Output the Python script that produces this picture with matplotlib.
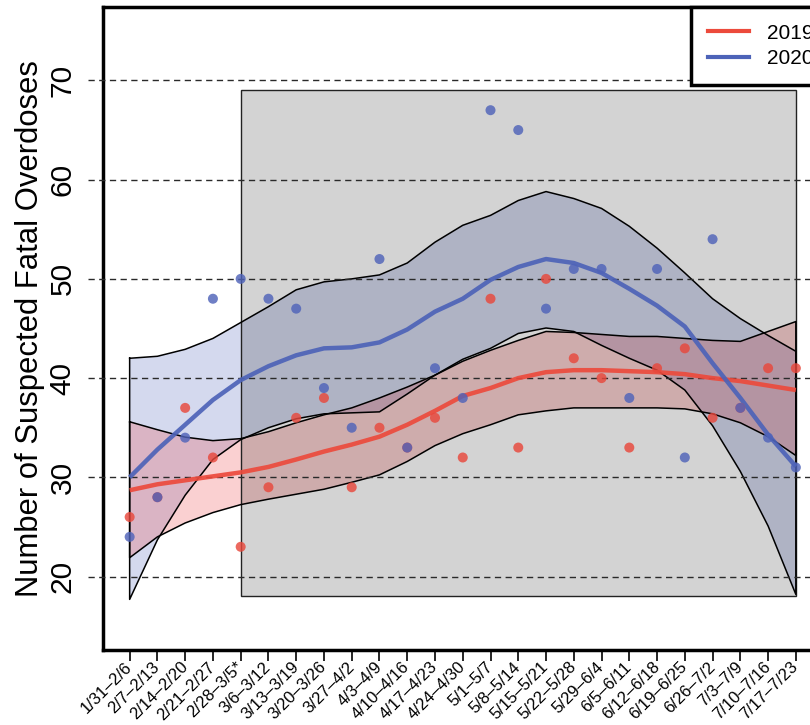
import matplotlib
matplotlib.use('Agg')
import matplotlib.pyplot as plt
from matplotlib.patches import Rectangle
from matplotlib.lines import Line2D
import matplotlib.transforms as mtransforms
import numpy as np

# ---------------- data ----------------
weeks = ['1/31–2/6', '2/7–2/13', '2/14–2/20', '2/21–2/27', '2/28–3/5*',
         '3/6–3/12', '3/13–3/19', '3/20–3/26', '3/27–4/2', '4/3–4/9',
         '4/10–4/16', '4/17–4/23', '4/24–4/30', '5/1–5/7', '5/8–5/14',
         '5/15–5/21', '5/22–5/28', '5/29–6/4', '6/5–6/11', '6/12–6/18',
         '6/19–6/25', '6/26–7/2', '7/3–7/9', '7/10–7/16', '7/17–7/23']

deaths_2019 = [26, 28, 37, 32, 23, 29, 36, 38, 29, 35, 33, 36, 32, 48, 33,
               50, 42, 40, 33, 41, 43, 36, 37, 41, 41]
deaths_2020 = [24, 28, 34, 48, 50, 48, 47, 39, 35, 52, 33, 41, 38, 67, 65,
               47, 51, 51, 38, 51, 32, 54, 37, 34, 31]

fit_2019 = [28.7, 29.3, 29.7, 30.1, 30.5, 31.05, 31.8, 32.6, 33.3, 34.1,
            35.3, 36.7, 38.2, 39.0, 40.0, 40.6, 40.8, 40.8, 40.7, 40.6,
            40.4, 40.0, 39.7, 39.25, 38.8]
lower_2019 = [21.9, 24.0, 25.4, 26.45, 27.25, 27.8, 28.3, 28.8, 29.5, 30.25,
              31.6, 33.2, 34.4, 35.3, 36.3, 36.7, 37.0, 37.0, 37.0, 37.0,
              36.9, 36.4, 35.5, 34.1, 32.2]
upper_2019 = [35.6, 34.8, 34.05, 33.7, 33.9, 34.6, 35.5, 36.3, 37.0, 38.0,
              39.1, 40.3, 41.7, 42.8, 43.8, 44.7, 44.6, 44.4, 44.2, 44.2,
              44.0, 43.8, 43.7, 44.7, 45.7]

fit_2020 = [30.0, 32.8, 35.3, 37.8, 39.8, 41.2, 42.3, 43.0, 43.1, 43.6,
            44.9, 46.7, 48.0, 49.9, 51.2, 52.0, 51.6, 50.6, 49.0, 47.3,
            45.2, 41.5, 38.0, 34.3, 31.1]
lower_2020 = [17.7, 23.7, 28.2, 31.8, 33.8, 35.0, 35.9, 36.4, 36.5, 36.6,
              38.4, 40.3, 41.9, 43.0, 44.5, 45.05, 44.7, 43.3, 42.0, 40.8,
              38.8, 35.2, 30.6, 25.1, 18.2]
upper_2020 = [42.0, 42.2, 42.9, 44.0, 45.6, 47.2, 48.9, 49.7, 50.0, 50.4,
              51.6, 53.7, 55.4, 56.4, 57.9, 58.8, 58.1, 57.1, 55.3, 53.1,
              50.6, 48.0, 46.0, 44.3, 42.7]

shade_weeks = ('2/28–3/5*', '7/17–7/23')
shade_range = (18, 69)
y_ticks = [20, 30, 40, 50, 60, 70]
series_labels = ['2019', '2020']

# ---------------- style ----------------
RED = '#ec4a3c'
BLUE = '#4d63b8'
plt.rcParams['font.family'] = ['Liberation Sans', 'DejaVu Sans']

fig = plt.figure(figsize=(8.10, 7.25), dpi=100)
ax_w = 719.5
ax = fig.add_axes([103 / 810, 75 / 725, ax_w / 810, 643 / 725])

x = np.arange(len(weeks))

# confidence bands
ax.fill_between(x, lower_2020, upper_2020, facecolor=BLUE, alpha=0.24,
                edgecolor='none', zorder=1)
ax.fill_between(x, lower_2019, upper_2019, facecolor='#ee4a4f', alpha=0.26,
                edgecolor='none', zorder=1.1)

# shaded period (darkening overlay) + outline
xs0 = weeks.index(shade_weeks[0])
xs1 = weeks.index(shade_weeks[1])
ax.add_patch(Rectangle((xs0, shade_range[0]), xs1 - xs0,
                       shade_range[1] - shade_range[0],
                       facecolor='black', alpha=0.172, edgecolor='none',
                       zorder=2))
ax.add_patch(Rectangle((xs0, shade_range[0]), xs1 - xs0,
                       shade_range[1] - shade_range[0],
                       facecolor='none', edgecolor='#222222', linewidth=1.0,
                       zorder=3))

# band outlines
for lo, hi in ((lower_2020, upper_2020), (lower_2019, upper_2019)):
    px = np.concatenate([x, x[::-1], x[:1]])
    py = np.concatenate([hi, lo[::-1], hi[:1]])
    ax.plot(px, py, color='black', linewidth=1.1, zorder=3.2,
            solid_joinstyle='round')

# dashed reference lines (extending slightly left of the axis)
trans = mtransforms.blended_transform_factory(ax.transAxes, ax.transData)
for yt in y_ticks:
    ax.plot([-0.021, 1.0], [yt, yt], transform=trans, color='#2a2a2a',
            linewidth=1.0, linestyle=(0, (4.5, 3.2)), clip_on=False,
            zorder=4)

# fitted lines
ax.plot(x, fit_2019, color=RED, linewidth=3.2, alpha=0.92, zorder=5,
        solid_capstyle='butt')
ax.plot(x, fit_2020, color=BLUE, linewidth=3.2, alpha=0.92, zorder=5.1,
        solid_capstyle='butt')

# points
ax.scatter(x, deaths_2019, s=52, color='#e8483c', alpha=0.82,
           edgecolors='none', zorder=6)
ax.scatter(x, deaths_2020, s=52, color='#4f63b9', alpha=0.82,
           edgecolors='none', zorder=6.1)

# axes
ax.set_xlim(-0.96, len(weeks) - 1 + 0.96)
ax.set_ylim(12.6, 77.4)
for s in ax.spines.values():
    s.set_linewidth(2.5)
ax.set_xticks(x)
ax.set_xticklabels(weeks, rotation=45, ha='right', va='center',
                   rotation_mode='anchor', fontsize=12)
ax.tick_params(axis='x', length=8, width=1.2, pad=2.5)
ax.set_yticks(y_ticks)
ax.set_yticklabels([str(v) for v in y_ticks], rotation=90, va='center',
                   ha='center', fontsize=21.5)
ax.tick_params(axis='y', length=0, pad=29)
ax.set_ylabel('Number of Suspected Fatal Overdoses', fontsize=22.3,
              va='center')
ax.yaxis.set_label_coords(-0.101, 0.5)

handles = [Line2D([], [], color=RED, linewidth=3.0),
           Line2D([], [], color=BLUE, linewidth=3.0)]
leg = ax.legend(handles, series_labels, loc='upper right',
                bbox_to_anchor=(1.0 + 8 / ax_w, 1.0), borderaxespad=0,
                fontsize=15, fancybox=False, framealpha=1, edgecolor='black',
                handlelength=1.95, handletextpad=0.9, borderpad=0.8,
                labelspacing=0.32)
leg.get_frame().set_linewidth(2.5)
leg.set_zorder(10)

fig.savefig('out.png', dpi=100)
